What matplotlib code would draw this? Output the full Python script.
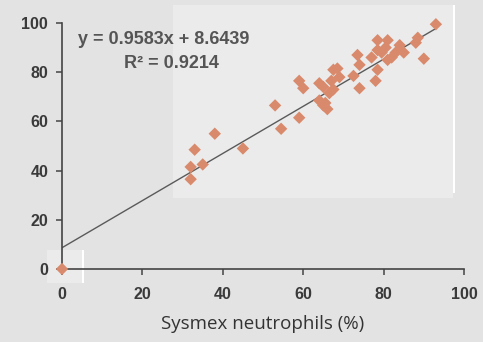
import numpy as np
import matplotlib
matplotlib.use("Agg")
import matplotlib.pyplot as plt
from matplotlib.patches import Rectangle

# Sysmex neutrophils (%) vs. comparison method (%)
sysmex = [0, 32, 32, 33, 35, 38, 45,
          53, 54.5, 59, 59, 60,
          64, 64, 65, 65.5, 66, 66.5, 67, 67.5, 67.5, 68.5, 69, 65,
          72.5, 73.5, 74, 74,
          77, 78, 78.5, 78.5, 78.5, 79.5, 80.5,
          81, 81, 82, 83, 84, 85,
          88, 88.5, 90, 93]
other = [0, 36.5, 41.5, 48.5, 42.5, 55, 49,
         66.5, 57, 61.5, 76.5, 73.5,
         68.5, 75.5, 74, 67.5, 65, 71.5, 76.5, 73, 81, 81.5, 78, 66.5,
         78.5, 87, 83, 73.5,
         86, 76.5, 81, 89, 93, 88, 90,
         93, 85, 86, 88, 91, 88,
         92, 94, 85.5, 99.5]
slope = 0.9583
intercept = 8.6439
r2 = 0.9214
ticks = [0, 20, 40, 60, 80, 100]

fig = plt.figure(figsize=(4.83, 3.42), dpi=100)
fig.patch.set_facecolor("#e3e3e3")

# scan artefacts: lighter patches and white streaks
fig.patches.append(Rectangle((0.358, 0.421), 0.580, 0.564, transform=fig.transFigure,
                             facecolor="#ebebeb", edgecolor="none", zorder=-2))
fig.patches.append(Rectangle((0.097, 0.173), 0.075, 0.096, transform=fig.transFigure,
                             facecolor="#ebebeb", edgecolor="none", zorder=-2))
fig.patches.append(Rectangle((0.938, 0.436), 0.004, 0.549, transform=fig.transFigure,
                             facecolor="white", edgecolor="none", zorder=-1))
fig.patches.append(Rectangle((0.170, 0.173), 0.004, 0.096, transform=fig.transFigure,
                             facecolor="white", edgecolor="none", zorder=-1))

ax = fig.add_axes([0.1284, 0.2135, 0.8323, 0.7192])
ax.set_facecolor("none")

ax.scatter(sysmex, other, marker="D", s=40, color="#d98a6c", edgecolors="none",
           zorder=3, clip_on=False)

xl = np.array([0, max(sysmex)])
ax.plot(xl, slope * xl + intercept, color="#5a5a5a", lw=1.0, zorder=2)

ax.set_xlim(0, 100)
ax.set_ylim(0, 100)
ax.set_xticks(ticks)
ax.set_yticks(ticks)

for side in ["top", "right"]:
    ax.spines[side].set_visible(False)
for side in ["left", "bottom"]:
    ax.spines[side].set_color("#444444")
    ax.spines[side].set_linewidth(1.2)

ax.tick_params(direction="out", length=4, width=1.1, color="#444444",
               labelsize=11.5, labelcolor="#3a3a3a", pad=6)
ax.tick_params(axis="x", pad=9)
for lab in ax.get_xticklabels() + ax.get_yticklabels():
    lab.set_family("Liberation Sans")
    lab.set_fontweight("bold")

ax.set_xlabel("Sysmex neutrophils (%)", fontsize=13.5, color="#333333",
              family="Open Sans", labelpad=9)

ax.text(0.04, 0.931, f"y = {slope}x + {intercept}", transform=ax.transAxes,
        fontsize=13, family="Liberation Sans", fontweight="bold", color="#555555",
        va="center", ha="left")
ax.text(0.155, 0.837, f"R² = {r2}", transform=ax.transAxes,
        fontsize=13, family="Liberation Sans", fontweight="bold", color="#555555",
        va="center", ha="left")

fig.savefig("out.png", dpi=100, facecolor=fig.get_facecolor())
